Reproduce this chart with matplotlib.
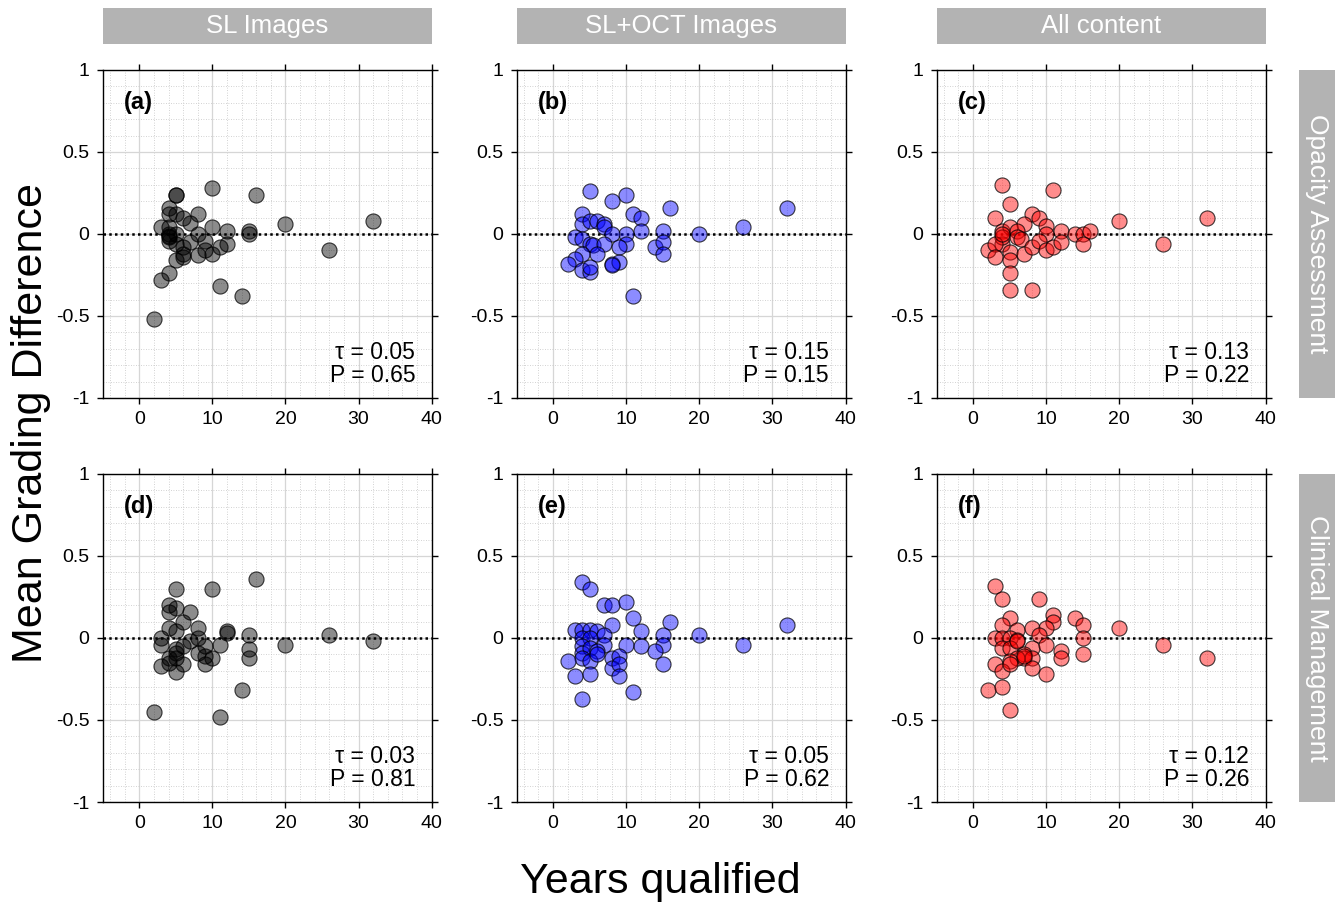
import matplotlib
matplotlib.use("Agg")
import matplotlib.pyplot as plt
from matplotlib.ticker import MultipleLocator
import numpy as np

plt.rcParams['font.family'] = ['Liberation Sans', 'DejaVu Sans']

col_titles = ["SL Images", "SL+OCT Images", "All content"]
row_titles = ["Opacity Assessment", "Clinical Management"]
panel_labels = ["(a)", "(b)", "(c)", "(d)", "(e)", "(f)"]
tau_vals = ["0.05", "0.15", "0.13", "0.03", "0.05", "0.12"]
p_vals = ["0.65", "0.15", "0.22", "0.81", "0.62", "0.26"]
colors = ["black", "blue", "red"]

xa = [5, 5, 10, 16, 4, 4, 6, 5, 8, 7, 3, 4, 10, 12, 15, 15, 20, 32, 4, 4, 4, 5, 8, 9, 5, 6,
      7, 6, 5, 8, 10, 11, 12, 9, 4, 3, 26, 11, 14, 2, 6, 4]
ya = [0.24, 0.24, 0.28, 0.24, 0.16, 0.12, 0.10, 0.12, 0.12, 0.07, 0.04, 0.04, 0.04, 0.02, 0.02,
      0.0, 0.06, 0.08, -0.01, 0.0, -0.02, 0.0, 0.0, -0.04, -0.06, -0.08, -0.05, -0.12, -0.16,
      -0.13, -0.12, -0.08, -0.06, -0.10, -0.24, -0.28, -0.10, -0.32, -0.38, -0.52, -0.14, -0.04]

xb = [5, 10, 8, 16, 32, 4, 11, 12, 4, 5, 6, 7, 7, 12, 15, 26, 20, 10, 8, 3, 4, 5, 5.5, 7, 10,
      9, 14, 15, 15, 6, 4, 3, 2, 8, 9, 4, 5, 5, 11, 8]
yb = [0.26, 0.24, 0.20, 0.16, 0.16, 0.12, 0.12, 0.10, 0.06, 0.08, 0.08, 0.06, 0.04, 0.02, 0.02,
      0.04, 0.0, 0.0, 0.0, -0.02, -0.03, -0.06, -0.07, -0.06, -0.06, -0.08, -0.08, -0.05, -0.12,
      -0.12, -0.12, -0.15, -0.18, -0.18, -0.17, -0.22, -0.23, -0.20, -0.38, -0.19]

xc = [4, 11, 5, 3, 8, 9, 7, 10, 20, 32, 4, 5, 6, 12, 14, 15, 16, 10, 4, 4, 6, 6.5, 2, 3, 3, 5,
      5, 5, 5, 8, 7, 8, 9, 10, 11, 12, 15, 26, 4]
yc = [0.30, 0.27, 0.18, 0.10, 0.12, 0.10, 0.06, 0.05, 0.08, 0.10, 0.02, 0.04, 0.02, 0.02, 0.0,
      0.0, 0.02, 0.0, -0.06, -0.02, -0.02, -0.03, -0.10, -0.06, -0.14, -0.11, -0.16, -0.24, -0.34,
      -0.34, -0.12, -0.08, -0.04, -0.10, -0.08, -0.05, -0.06, -0.06, 0.0]

xd = [16, 5, 10, 4, 4, 5, 7, 6, 4, 8, 12, 12, 15, 26, 5, 3, 3, 7, 8, 9, 11, 20, 32, 5, 6, 4,
      8, 9, 10, 15, 15, 3, 4, 5, 6, 5, 9, 14, 2, 11, 5]
yd = [0.36, 0.30, 0.30, 0.20, 0.16, 0.18, 0.16, 0.10, 0.06, 0.06, 0.04, 0.03, 0.02, 0.02, 0.04,
      0.0, -0.04, -0.02, 0.0, -0.05, -0.04, -0.04, -0.02, -0.07, -0.05, -0.12, -0.09, -0.11,
      -0.12, -0.07, -0.12, -0.17, -0.15, -0.12, -0.16, -0.21, -0.16, -0.32, -0.45, -0.48, -0.09]

xe = [4, 5, 7, 8, 10, 11, 8, 16, 32, 12, 15, 20, 3, 4, 5, 6, 7, 4, 5, 10, 7, 12, 15, 14, 26,
      4, 4, 5, 6, 4, 5, 2, 8, 9, 8, 9, 15, 3, 5, 9, 11, 4, 6]
ye = [0.34, 0.30, 0.20, 0.20, 0.22, 0.12, 0.08, 0.10, 0.08, 0.04, 0.02, 0.02, 0.05, 0.05, 0.05,
      0.04, 0.02, 0.0, 0.0, -0.04, -0.04, -0.05, -0.04, -0.08, -0.04, -0.05, -0.09, -0.06, -0.08,
      -0.12, -0.14, -0.14, -0.12, -0.11, -0.18, -0.16, -0.16, -0.23, -0.22, -0.23, -0.33, -0.37,
      -0.10]

xf = [3, 4, 9, 5, 11, 11, 14, 15, 4, 6, 8, 10, 9, 20, 3, 4, 5, 6, 15, 4, 5, 6, 8, 10, 12, 12,
      15, 26, 32, 7, 7, 8, 6, 5, 3, 4, 5, 8, 10, 2, 4, 5, 7]
yf = [0.32, 0.24, 0.24, 0.12, 0.14, 0.10, 0.12, 0.08, 0.08, 0.05, 0.06, 0.06, 0.02, 0.06, 0.0,
      0.0, 0.0, -0.01, 0.0, -0.06, -0.06, -0.02, -0.06, -0.04, -0.08, -0.12, -0.10, -0.04, -0.12,
      -0.10, -0.12, -0.12, -0.12, -0.14, -0.16, -0.20, -0.16, -0.18, -0.22, -0.32, -0.30, -0.44,
      -0.11]

xs = [xa, xb, xc, xd, xe, xf]
ys = [ya, yb, yc, yd, ye, yf]

W, H = 1338, 905
fig = plt.figure(figsize=(W / 100, H / 100), dpi=100)

col_left = [102.7, 516.5, 936.5]
row_top = [70, 474]
aw, ah = 329, 328

def fbox(l, t, w, h):
    return [l / W, 1 - (t + h) / H, w / W, h / H]

header_gray = "#b3b3b3"

for r in range(2):
    for c in range(3):
        i = r * 3 + c
        ax = fig.add_axes(fbox(col_left[c], row_top[r], aw, ah))
        ax.set_xlim(-5, 40)
        ax.set_ylim(-1, 1)
        ax.xaxis.set_minor_locator(MultipleLocator(2))
        ax.yaxis.set_minor_locator(MultipleLocator(0.1))
        ax.set_xticks([0, 10, 20, 30, 40])
        ax.set_xticklabels(["0", "10", "20", "30", "40"])
        ax.set_yticks([-1, -0.5, 0, 0.5, 1])
        ax.set_yticklabels(["-1", "-0.5", "0", "0.5", "1"])
        ax.grid(which="major", color="#d6d6d6", lw=0.9, ls="-")
        ax.grid(which="minor", color="#c4c4c4", lw=0.6, ls=(0, (1, 2)))
        ax.set_axisbelow(True)
        ax.tick_params(which="major", direction="out", length=4.5, width=1,
                       top=True, right=True, labelsize=14, pad=5)
        ax.tick_params(which="minor", length=0)
        for s in ax.spines.values():
            s.set_linewidth(1.0)
        ax.axhline(0, color="black", lw=1.8, ls=(0, (1, 1.3)), zorder=2)
        col = matplotlib.colors.to_rgba(colors[c], 0.45)
        ax.scatter(xs[i], ys[i], s=118, facecolor=col, edgecolor=(0, 0, 0, 0.75),
                   linewidth=0.8, zorder=3)
        ax.text(0.065, 0.9, panel_labels[i], transform=ax.transAxes, fontsize=17,
                fontweight="bold", ha="left", va="center")
        ax.text(0.95, 0.035, "\u03c4 = %s\nP = %s" % (tau_vals[i], p_vals[i]),
                transform=ax.transAxes, fontsize=16.5, ha="right", va="bottom",
                linespacing=1.0)

# column headers
for c in range(3):
    hax = fig.add_axes(fbox(col_left[c], 8, aw, 36))
    hax.set_facecolor(header_gray)
    hax.set_xticks([]); hax.set_yticks([])
    for s in hax.spines.values():
        s.set_visible(False)
    hax.text(0.5, 0.5, col_titles[c], color="white", fontsize=18.5, ha="center",
             va="center", transform=hax.transAxes)

# row headers
for r in range(2):
    rax = fig.add_axes(fbox(1299, row_top[r], 36, ah))
    rax.set_facecolor(header_gray)
    rax.set_xticks([]); rax.set_yticks([])
    for s in rax.spines.values():
        s.set_visible(False)
    rax.text(0.5, 0.5, row_titles[r], color="white", fontsize=19, ha="center",
             va="center", rotation=-90, transform=rax.transAxes)

fig.text(660 / W, 1 - 882 / H, "Years qualified", fontsize=31, ha="center", va="center")
fig.text(31 / W, 1 - 423 / H, "Mean Grading Difference", fontsize=31, ha="center",
         va="center", rotation=90)

fig.savefig("out.png", dpi=100)
